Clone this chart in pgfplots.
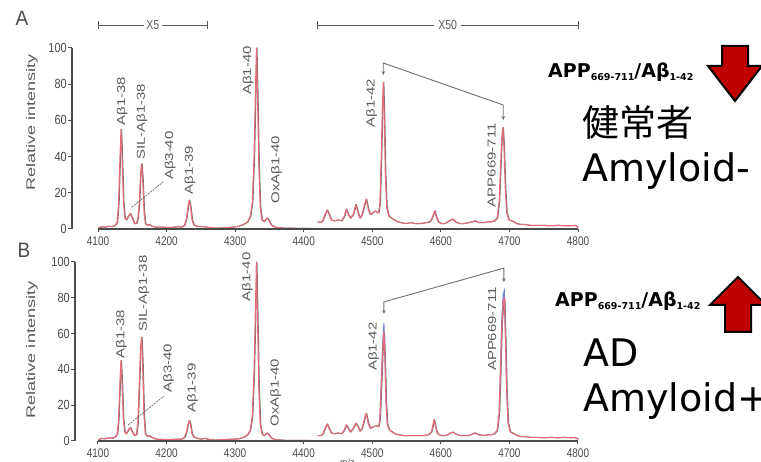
\documentclass[border=0pt]{standalone}
\usepackage{fontspec}
\setmainfont{Liberation Sans}
\newfontfamily\dejavu{DejaVu Sans}
\newfontfamily\cjk{Noto Sans CJK JP}
\usepackage{pgfplots}
\pgfplotsset{compat=1.18}
\usepackage{pgfplotstable}
\usetikzlibrary{arrows.meta}

\definecolor{axisgray}{RGB}{75,75,75}
\definecolor{labgray}{RGB}{90,90,90}
\definecolor{specred}{RGB}{232,108,120}
\definecolor{specgray}{RGB}{110,110,110}
\definecolor{specblue}{RGB}{110,130,210}
\definecolor{arrowred}{RGB}{192,0,0}

% panel A, X5 part and the middle
\pgfplotstableread{
x y
4100 0.5
4105 1.2
4110 1.0
4115 1.5
4120 1.3
4125 2.0
4128 4
4130 15
4132 40
4133.5 55
4135 40
4137 15
4139 6
4141 5
4144 7
4147 8.5
4150 6
4153 3
4156 3
4158 6
4160 14
4162 31
4163.5 36
4165 28
4167 10
4169 3
4172 2
4175 2.5
4178 1.5
4185 1
4195 1
4205 0.8
4215 1.2
4222 1
4226 2
4229 6
4231 12
4233 16
4235 12
4237 5
4240 2
4245 1.5
4255 1.2
4262 0.8
4270 0.5
4285 0.6
4295 1
4305 1.5
4312 2.5
4318 4
4322 7
4325 15
4327.5 40
4329.5 75
4331 100
4332.5 75
4334.5 35
4336.5 12
4339 5
4342 4
4345 5.5
4347 6
4350 4
4353 2
4358 1
4370 0.5
4385 0.4
4400 0.3
4410 0.3
}\Aone

% panel A, X50 part
\pgfplotstableread{
x y
4420 4
4425 3.5
4428 5
4431 8
4434 10.5
4437 8
4440 5
4445 4.5
4450 5
4455 4.5
4459 7
4462 11
4465 8
4468 6
4472 8
4476 13.5
4479 9
4482 6
4485 8
4489 14
4491 16.5
4494 11
4497 8
4501 9
4504 10
4507 9
4509 9
4511 14
4513 40
4514.5 65
4516 81
4517.5 60
4519 30
4521 12
4524 7
4528 6
4532 5
4536 4
4542 3.5
4548 3
4555 3.5
4562 3
4570 3
4578 3.5
4584 4
4587 6
4589 8
4591 10
4593 7
4596 4
4600 3
4606 3
4612 4.5
4617 5.5
4621 4
4627 3
4633 3
4640 3.5
4646 4
4650 4.5
4655 3.5
4662 3.5
4668 4
4674 4
4678 4.5
4682 6
4685 15
4687 35
4689 52
4690.5 56
4692 45
4694 22
4696 9
4699 5
4703 4.5
4706 4
4710 3
4716 2.5
4722 2.5
4730 2
4740 2
4750 2
4760 1.8
4770 2
4780 1.8
4790 1.8
4795 2
4800 1
}\Atwo

% panel B, X5 part and the middle
\pgfplotstableread{
x y
4100 0.5
4105 1.5
4110 1.2
4115 1.8
4120 1.5
4125 2.2
4128 4
4130 12
4132 33
4133.5 45
4135 33
4137 12
4139 5
4141 4
4144 6
4147 7.5
4150 5
4153 3
4156 3.5
4158 10
4160 30
4162 52
4163.5 58
4165 45
4167 15
4169 4
4172 2.5
4175 3
4178 2
4185 1
4195 0.8
4205 0.8
4215 1
4222 1
4226 2
4229 5
4231 9
4233 11.5
4235 9
4237 4
4240 2
4245 1.5
4250 1
4255 1.5
4262 0.8
4270 0.5
4285 0.8
4295 1
4305 1.2
4312 2
4318 3.5
4322 6
4325 14
4327.5 38
4329.5 72
4331 100
4332.5 72
4334.5 30
4336.5 10
4339 4
4342 3
4345 4
4347 4.5
4350 3
4353 1.5
4358 0.8
4370 0.4
4385 0.3
4400 0.3
4410 0.3
}\Bone

% panel B, X50 part
\pgfplotstableread{
x y
4420 3
4425 3
4428 4
4431 7
4434 9.5
4437 7
4440 4.5
4445 4
4450 4.5
4455 4
4459 6
4462 9
4465 7
4468 5
4472 7
4476 10
4479 8
4482 5.5
4485 7
4489 13
4491 15.5
4494 10
4497 7
4501 8
4505 8.5
4509 8
4511 12
4513 30
4515 50
4517 61
4518.5 45
4520 22
4522 9
4525 6
4529 5
4533 4
4538 3.5
4545 3
4552 3
4560 3
4568 3
4575 3
4582 3.5
4586 5
4588 8
4590 12
4592 8
4595 4
4600 3
4606 3
4612 4
4617 5
4621 4
4627 3
4633 3
4640 3
4646 4
4650 4.5
4655 3.5
4662 3
4668 3.5
4674 3.5
4678 4
4682 6
4685 16
4687 40
4689 66
4691 78
4692.5 80
4694 60
4696 28
4698 10
4701 5
4704 4.5
4707 4
4711 3
4716 2.5
4722 2.5
4730 2
4740 2
4750 1.8
4760 2
4770 1.8
4780 2
4790 1.8
4795 2
4800 1
}\Btwo

% panel B, blue trace tops
\pgfplotstableread{
x y
4511 12
4513 32
4515 54
4517 66
4518.5 48
4520 22
4522 9
4600 nan
4685 16
4687 42
4689 70
4691 82
4692.5 84
4694 62
4696 28
4698 10
}\Bblue

\pgfplotsset{
  spec/.style={
    scale only axis, anchor=south west,
    xmax=4800, ymin=0, ymax=100,
    enlargelimits=false, clip=false,
    axis y line*=left, axis x line*=bottom,
    axis line style={-},
    x axis line style={draw=none},
    y axis line style={draw=axisgray, line width=1.2pt},
    ytick={0,20,40,60,80,100}, xtick={4100,4200,...,4800},
    tick align=outside, major tick length=3.5pt,
    tick style={axisgray, line width=1pt},
    /pgf/number format/assume math mode=true,
    /pgf/number format/1000 sep={},
    yticklabel style={font=\fontsize{11}{12}\selectfont, text=axisgray, inner sep=1.5pt, yscale=1.2},
    xticklabel style={font=\fontsize{10}{11}\selectfont, text=axisgray, yscale=1.25},
    unbounded coords=jump,
  },
}
\tikzset{
  pk/.style={rotate=90, anchor=west, xscale=1.3, inner sep=0pt, text=labgray,
    font=\fontsize{11.5}{12}\selectfont},
  grayline/.style={specgray, line width=1pt, xshift=0.6pt, line join=round},
  redline/.style={specred, line width=1.1pt, line join=round},
  bartext/.style={fill=white, text=labgray, yscale=1.25, font=\fontsize{10.5}{11}\selectfont},
}

\begin{document}
\begin{tikzpicture}
\useasboundingbox (0,0) rectangle (761pt,462pt);

% ---------- panel A ----------
\begin{axis}[spec, at={(72pt,233pt)}, width=506pt, height=181pt, xmin=4062,
  xticklabel={}]
\addplot[grayline] table {\Aone};
\addplot[grayline] table {\Atwo};
\addplot[redline] table {\Aone};
\addplot[redline] table {\Atwo};
\draw[axisgray, line width=1.2pt] (axis cs:4100,0) -- (axis cs:4800,0);

% range bars
\draw[labgray, line width=1pt] (axis cs:4100,112.7) -- (axis cs:4260,112.7);
\draw[labgray, line width=1pt] (axis cs:4100,110.4) -- (axis cs:4100,115);
\draw[labgray, line width=1pt] (axis cs:4260,110.4) -- (axis cs:4260,115);
\node[bartext, inner sep=2.5pt] at (axis cs:4180,112.7) {X5};
\draw[labgray, line width=1pt] (axis cs:4420,112.7) -- (axis cs:4800,112.7);
\draw[labgray, line width=1pt] (axis cs:4420,110.4) -- (axis cs:4420,115);
\draw[labgray, line width=1pt] (axis cs:4800,110.4) -- (axis cs:4800,115);
\node[bartext, inner sep=4pt] at (axis cs:4610,112.7) {X50};

% peak labels
\node[pk] at (axis cs:4135,57) {Aβ1-38};
\node[pk] at (axis cs:4164,38) {SIL-Aβ1-38};
\node[pk] at (axis cs:4205,27) {Aβ3-40};
\node[pk] at (axis cs:4234,19) {Aβ1-39};
\node[pk] at (axis cs:4319,74) {Aβ1-40};
\node[pk] at (axis cs:4360,14) {OxAβ1-40};
\node[pk] at (axis cs:4499,56) {Aβ1-42};
\node[pk] at (axis cs:4674,12) {APP669-711};
\draw[labgray, line width=0.6pt, dash pattern=on 2pt off 1pt] (axis cs:4149,12) -- (axis cs:4195,26);

\draw[specgray, line width=0.9pt, {Stealth[length=4pt,width=3.5pt]}-{Stealth[length=4pt,width=3.5pt]}]
  (axis cs:4516,85) -- (axis cs:4516,91.7) -- (axis cs:4691,68.5) -- (axis cs:4691,60.2);
\end{axis}

% ---------- panel B ----------
\begin{axis}[spec, at={(75pt,21pt)}, width=503pt, height=179pt, xmin=4066.5]
\addplot[grayline] table {\Bone};
\addplot[grayline] table {\Btwo};
\addplot[specblue, line width=1pt] table {\Bblue};
\addplot[redline] table {\Bone};
\addplot[redline] table {\Btwo};
\draw[axisgray, line width=1.2pt] (axis cs:4100,0) -- (axis cs:4800,0);

\node[pk] at (axis cs:4134,46) {Aβ1-38};
\node[pk] at (axis cs:4167,61) {SIL-Aβ1-38};
\node[pk] at (axis cs:4203,27) {Aβ3-40};
\node[pk] at (axis cs:4238,16) {Aβ1-39};
\node[pk] at (axis cs:4318,78) {Aβ1-40};
\node[pk] at (axis cs:4359,8) {OxAβ1-40};
\node[pk] at (axis cs:4502,39) {Aβ1-42};
\node[pk] at (axis cs:4675,39) {APP669-711};
\draw[labgray, line width=0.6pt, dash pattern=on 2pt off 1pt] (axis cs:4144,9) -- (axis cs:4196,25);

\draw[specgray, line width=0.9pt, {Stealth[length=4pt,width=3.5pt]}-{Stealth[length=4pt,width=3.5pt]}]
  (axis cs:4517,71) -- (axis cs:4517,77.7) -- (axis cs:4692,96.6) -- (axis cs:4692,88.8);
\end{axis}

% axis titles and panel letters
\node[rotate=90, xscale=1.45, text=labgray, font=\fontsize{12.5}{13}\selectfont] at (32pt,339.5pt) {Relative intensity};
\node[rotate=90, xscale=1.45, text=labgray, font=\fontsize{12.5}{13}\selectfont] at (32pt,112pt) {Relative intensity};
\node[text=axisgray, yscale=1.1, font=\fontsize{19}{20}\selectfont] at (22pt,444pt) {A};
\node[text=axisgray, yscale=1.1, font=\fontsize{19}{20}\selectfont] at (24pt,212pt) {B};
\node[anchor=north, text=axisgray, font=\itshape\fontsize{9}{10}\selectfont] at (347pt,7pt) {m/z};

% right-hand notes
\node[anchor=base west, inner sep=0pt] at (548pt,384pt) {\dejavu\bfseries\fontsize{19}{20}\selectfont
  APP\raisebox{-2.5pt}{\fontsize{9.5}{10}\selectfont 669-711}/Aβ\raisebox{-2.5pt}{\fontsize{9.5}{10}\selectfont 1-42}};
\node[anchor=base west, inner sep=0pt] at (555pt,155pt) {\dejavu\bfseries\fontsize{19}{20}\selectfont
  APP\raisebox{-2.5pt}{\fontsize{9.5}{10}\selectfont 669-711}/Aβ\raisebox{-2.5pt}{\fontsize{9.5}{10}\selectfont 1-42}};

\draw[black, line width=2pt, line join=miter, fill=arrowred]
  (722pt,416pt) -- (748pt,416pt) -- (748pt,396pt) -- (762pt,396pt) -- (735pt,361pt)
  -- (708pt,396pt) -- (722pt,396pt) -- cycle;
\draw[black, line width=2pt, line join=miter, fill=arrowred]
  (725pt,130pt) -- (751pt,130pt) -- (751pt,157pt) -- (766pt,157pt) -- (738pt,185pt)
  -- (710pt,157pt) -- (725pt,157pt) -- cycle;

\node[anchor=base west, inner sep=0pt, font=\cjk\fontsize{37}{40}\selectfont] at (582pt,325pt) {健常者};
\node[anchor=base west, inner sep=0pt, font=\dejavu\fontsize{38}{40}\selectfont] at (582pt,280pt) {Amyloid-};
\node[anchor=base west, inner sep=0pt, font=\dejavu\fontsize{38}{40}\selectfont] at (583pt,95pt) {AD};
\node[anchor=base west, inner sep=0pt, font=\dejavu\fontsize{38}{40}\selectfont] at (583pt,50pt) {Amyloid+};
\end{tikzpicture}
\end{document}
